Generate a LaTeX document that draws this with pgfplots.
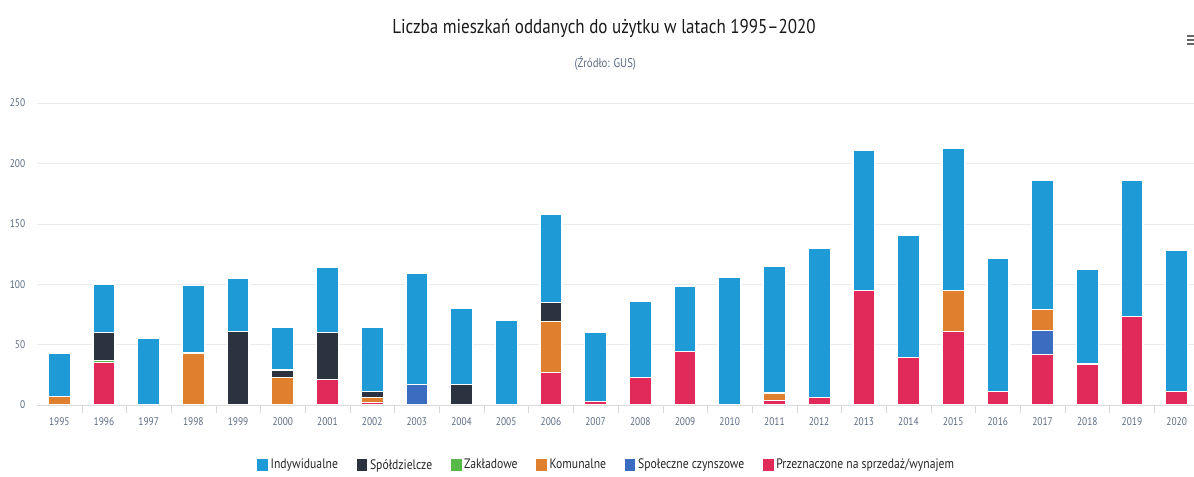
\documentclass[border=0pt]{standalone}
\usepackage{pgfplots}
\pgfplotsset{compat=1.18}
\usepackage{pgfplotstable}
\usepackage{fontspec}
\setmainfont[FakeStretch=0.85]{PT Sans}
\definecolor{cind}{HTML}{1E9BD7}
\definecolor{cspo}{HTML}{2C3340}
\definecolor{czak}{HTML}{57B947}
\definecolor{ckom}{HTML}{E07F2E}
\definecolor{cspol}{HTML}{3A6CC0}
\definecolor{cprz}{HTML}{E22A5A}
\definecolor{ctick}{HTML}{5A6B82}
\pgfplotstableread{
year ind spo zak kom spol prz
1995 36 0 0 7 0 0
1996 40 23 2 0 0 35
1997 55 0 0 0 0 0
1998 56 0 0 43 0 0
1999 44 61 0 0 0 0
2000 35 6 0 23 0 0
2001 54 39 0 0 0 21
2002 53 5 0 4 0 2
2003 92 0 0 0 17 0
2004 63 17 0 0 0 0
2005 70 0 0 0 0 0
2006 73 16 0 42 0 27
2007 57 0 0 0 0 3
2008 63 0 0 0 0 23
2009 54 0 0 0 0 44
2010 106 0 0 0 0 0
2011 105 0 0 6 0 4
2012 124 0 0 0 0 6
2013 116 0 0 0 0 95
2014 101 0 0 0 0 39
2015 117 0 0 34 0 61
2016 110 0 0 0 0 11
2017 107 0 0 17 20 42
2018 78 0 0 0 0 34
2019 113 0 0 0 0 73
2020 117 0 0 0 0 11
}\datatable
\begin{document}
\begin{tikzpicture}
\path[use as bounding box] (0,0) rectangle (895.5pt,357.75pt);
\node[font=\fontsize{15}{17}\selectfont, text=black!90] at (453pt,336.75pt) {Liczba mieszkań oddanych do użytku w latach 1995–2020};
\node[font=\fontsize{9.5}{10}\selectfont, text=ctick] at (454pt,310.5pt) {(Źródło: GUS)};
\foreach \yy in {0,3,6} {\fill[black!60] (890pt,{330pt-\yy pt}) rectangle (896pt,{331.3pt-\yy pt});}
\begin{axis}[
  at={(27.7pt,54pt)}, anchor=south west,
  scale only axis, width=867.8pt, height=226.5pt,
  ybar stacked, bar width=0.49,
  xmin=1994.5, xmax=2020.386, ymin=0, ymax=250,
  xtick={1995,...,2020},
  minor xtick={1995.5,...,2019.5},
  ytick={0,50,...,250},
  major x tick style={draw=none},
  minor tick length=6pt,
  minor x tick style={draw=black!15},
  tick align=outside, xtick pos=bottom, ytick pos=left,
  major y tick style={draw=none},
  ymajorgrids, grid style={draw=black!8},
  axis line style={draw=none},
  axis x line*=bottom,
  x axis line style={draw=black!15},
  /pgf/number format/1000 sep={},
  /pgf/number format/assume math mode=true,
  ticklabel style={font=\fontsize{8.3}{9}\selectfont, text=ctick},
  yticklabel style={xshift=-1pt},
  xticklabel style={yshift=-2pt},
  every axis plot/.append style={draw=white, line width=0.9pt},
  reverse legend,
  legend columns=6,
  legend style={at={(0.4927,-0.199)}, anchor=center, draw=none, fill=none,
    font=\fontsize{10.3}{11}\selectfont, text=black!85,
    /tikz/every even column/.append style={column sep=12pt}},
  legend image code/.code={\fill[#1, draw=none] (0pt,-4.2pt) rectangle (8pt,4.6pt);},
]
\addplot[fill=cprz] table[x=year,y=prz]{\datatable};
\addlegendentry{Przeznaczone na sprzedaż/wynajem}
\addplot[fill=cspol] table[x=year,y=spol]{\datatable};
\addlegendentry{Społeczne czynszowe}
\addplot[fill=ckom] table[x=year,y=kom]{\datatable};
\addlegendentry{Komunalne}
\addplot[fill=czak] table[x=year,y=zak]{\datatable};
\addlegendentry{Zakładowe}
\addplot[fill=cspo] table[x=year,y=spo]{\datatable};
\addlegendentry{Spółdzielcze}
\addplot[fill=cind] table[x=year,y=ind]{\datatable};
\addlegendentry{Indywidualne}
\end{axis}
\end{tikzpicture}
\end{document}
